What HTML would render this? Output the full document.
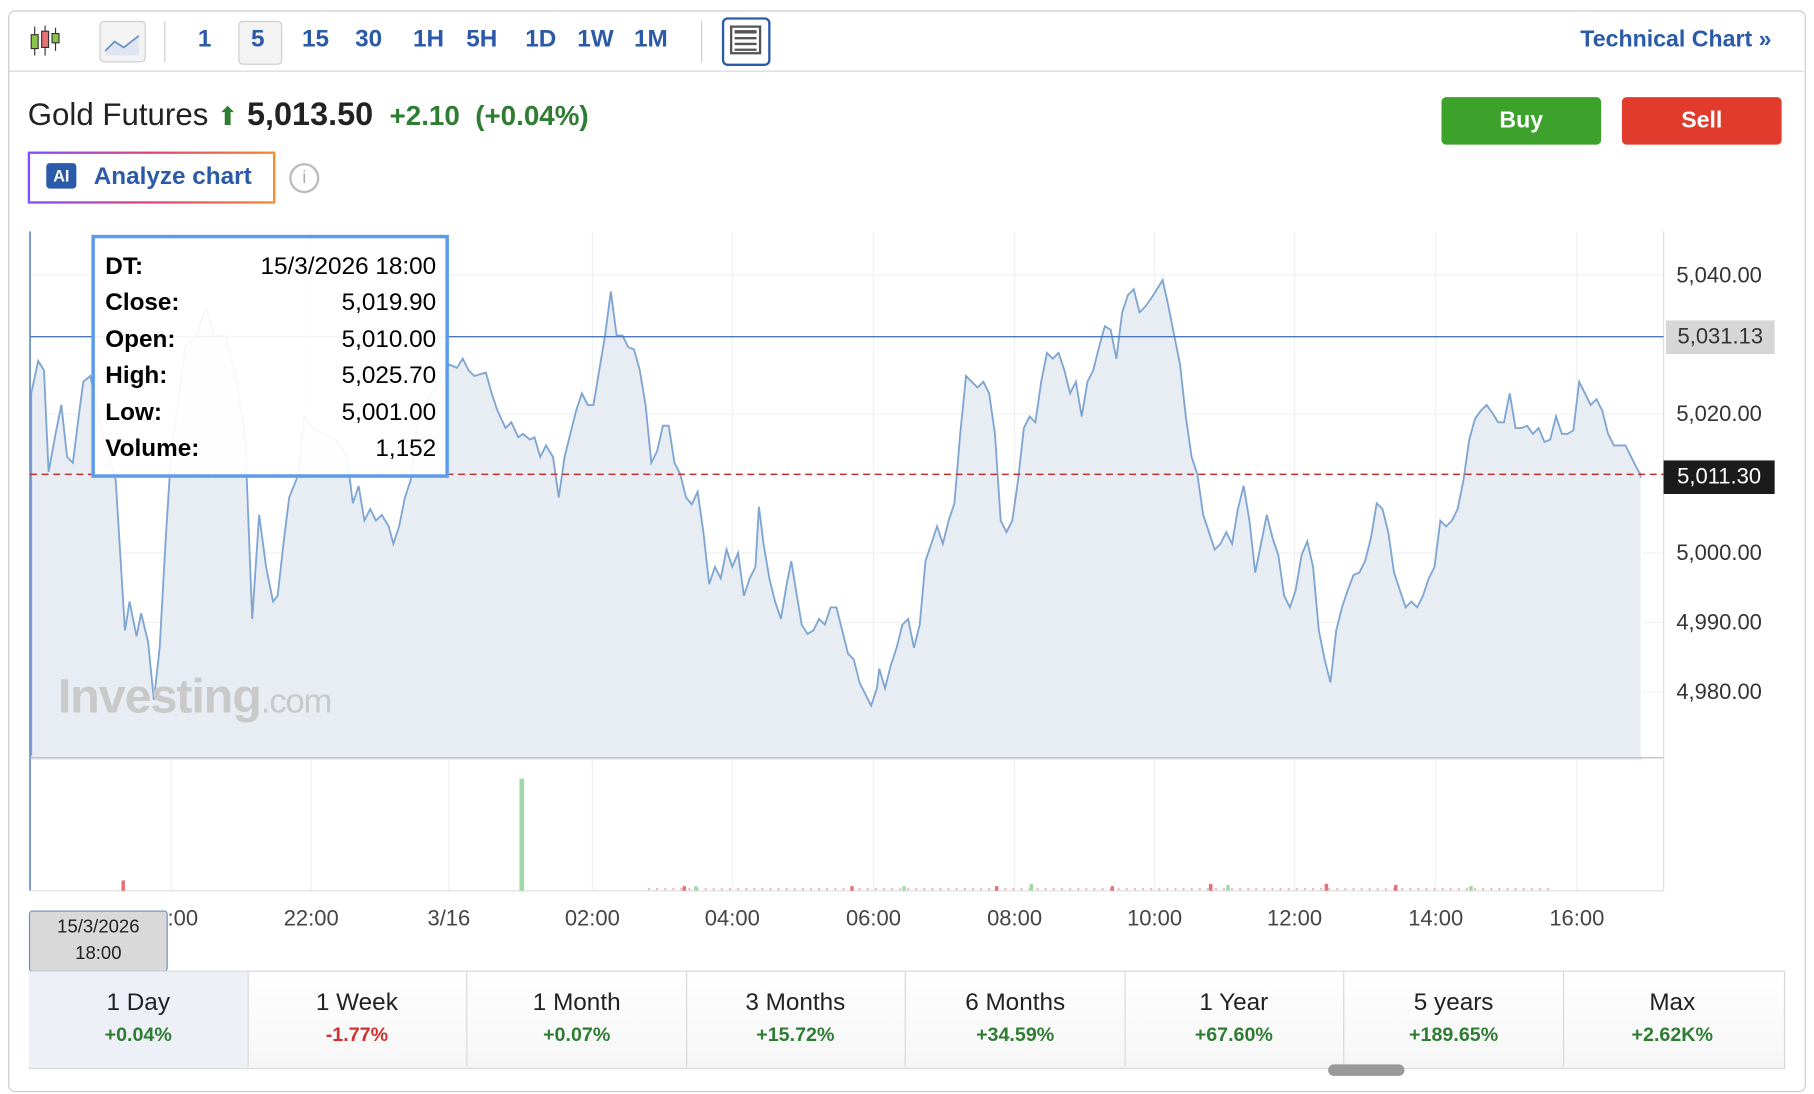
<!DOCTYPE html>
<html><head><meta charset="utf-8"><style>
html,body{margin:0;padding:0;background:#fff;width:1814px;height:1094px;overflow:hidden}
#w{position:absolute;left:0;top:0;width:1568px;height:946px;transform:scale(1.156888);transform-origin:0 0;font-family:"Liberation Sans",Arial,sans-serif}
.a{position:absolute}
.tf{position:absolute;top:22px;font-size:21px;font-weight:bold;color:#2a5aa8}
.tab{position:absolute;top:840px;height:82px;width:189px;border-right:1px solid #d8d8d8;text-align:center}
.tab .t{margin-top:15px;font-size:21px;color:#222}
.tab .p{margin-top:6px;font-size:17px;font-weight:bold;color:#2e7d32}
.yl{position:absolute;left:1449px;font-size:19px;color:#333}
.xl{position:absolute;top:784px;font-size:19px;color:#444;transform:translateX(-50%)}
.tt{position:absolute;left:9px;font-size:21px;font-weight:bold;color:#000}
.tv{position:absolute;right:8px;font-size:21px;color:#000}
</style></head><body><div id="w">
<div class="a" style="left:7px;top:9px;width:1552px;height:933px;border:1px solid #ccc;border-radius:6px"></div>
<div class="a" style="left:8px;top:61px;width:1551px;height:1px;background:#d6d6d6"></div>
<svg class="a" style="left:24px;top:20px" width="34" height="30"><line x1="6" y1="3" x2="6" y2="28" stroke="#333"/><rect x="3" y="10" width="6" height="12" fill="#8bc34a" stroke="#333"/><line x1="15" y1="2" x2="15" y2="28" stroke="#333"/><rect x="12" y="7" width="6" height="14" fill="#e57373" stroke="#333"/><line x1="24" y1="4" x2="24" y2="24" stroke="#333"/><rect x="21" y="9" width="6" height="8" fill="#8bc34a" stroke="#333"/></svg>
<div class="a" style="left:86px;top:18px;width:38px;height:34px;border:1px solid #ccc;border-radius:4px;background:#f3f3f3"></div>
<svg class="a" style="left:90px;top:24px" width="32" height="26"><path d="M1 20 L9 12 L17 17 L30 7 L30 24 L1 24Z" fill="#dfe6f2"/><path d="M1 20 L9 12 L17 17 L30 7" fill="none" stroke="#6b8fc4" stroke-width="1.5"/></svg>
<div class="a" style="left:142px;top:18px;width:1px;height:36px;background:#ccc"></div>
<div class="a" style="left:206px;top:18px;width:36px;height:36px;border:1px solid #ccc;border-radius:4px;background:#f3f3f3"></div>
<div class="tf" style="left:171px">1</div><div class="tf" style="left:217px">5</div><div class="tf" style="left:261px">15</div><div class="tf" style="left:307px">30</div><div class="tf" style="left:357px">1H</div><div class="tf" style="left:403px">5H</div><div class="tf" style="left:454px">1D</div><div class="tf" style="left:499px">1W</div><div class="tf" style="left:548px">1M</div>
<div class="a" style="left:606px;top:18px;width:1px;height:36px;background:#ccc"></div>
<div class="a" style="left:624px;top:15px;width:38px;height:38px;border:2px solid #2a5aa8;border-radius:5px"></div>
<svg class="a" style="left:631px;top:22px" width="28" height="26"><rect x="1" y="1" width="25" height="23" fill="none" stroke="#555" stroke-width="2"/><rect x="4" y="4" width="19" height="3" fill="#555"/><line x1="4" y1="11" x2="23" y2="11" stroke="#555" stroke-width="2"/><line x1="4" y1="16" x2="23" y2="16" stroke="#555" stroke-width="2"/><line x1="4" y1="21" x2="23" y2="21" stroke="#555" stroke-width="2"/></svg>
<div class="a" style="left:1366px;top:23px;font-size:20px;font-weight:bold;color:#2a5aa8">Technical Chart »</div>
<div class="a" style="left:24px;top:83px;font-size:27px;color:#222;white-space:nowrap">Gold Futures <span style="color:#2e7d32;font-size:22px">&#11014;</span> <b style="color:#222;font-size:28px">5,013.50</b> <b style="color:#2e7d32;font-size:24px">&nbsp;+2.10&nbsp; (+0.04%)</b></div>
<div class="a" style="left:1246px;top:84px;width:138px;height:41px;background:#3ca22c;border-radius:4px;color:#fff;font-size:20px;font-weight:bold;text-align:center;line-height:41px">Buy</div>
<div class="a" style="left:1402px;top:84px;width:138px;height:41px;background:#e03b2c;border-radius:4px;color:#fff;font-size:20px;font-weight:bold;text-align:center;line-height:41px">Sell</div>
<div class="a" style="left:24px;top:131px;width:210px;height:41px;border:2px solid;border-image:linear-gradient(90deg,#7c4dff,#e0457b,#f28a2e) 1;border-radius:6px"></div>
<div class="a" style="left:40px;top:141px;width:26px;height:22px;background:#2a5aa8;border-radius:3px;color:#fff;font-size:14px;font-weight:bold;text-align:center;line-height:22px">AI</div>
<div class="a" style="left:81px;top:141px;font-size:21px;font-weight:bold;color:#2a5aa8">Analyze chart</div>
<div class="a" style="left:250px;top:141px;width:22px;height:22px;border:2px solid #bbb;border-radius:50%;color:#aaa;font-size:15px;text-align:center;line-height:22px">i</div>
<svg class="a" style="left:0;top:0" width="1568" height="946">
<g stroke="#f0f0f0" stroke-width="1">
<line x1="148" y1="200" x2="148" y2="770"/><line x1="269" y1="200" x2="269" y2="770"/><line x1="388" y1="200" x2="388" y2="770"/><line x1="512" y1="200" x2="512" y2="770"/><line x1="633" y1="200" x2="633" y2="770"/><line x1="755" y1="200" x2="755" y2="770"/><line x1="877" y1="200" x2="877" y2="770"/><line x1="998" y1="200" x2="998" y2="770"/><line x1="1119" y1="200" x2="1119" y2="770"/><line x1="1241" y1="200" x2="1241" y2="770"/><line x1="1363" y1="200" x2="1363" y2="770"/>
<line x1="26" y1="238" x2="1438" y2="238"/><line x1="26" y1="358" x2="1438" y2="358"/><line x1="26" y1="478" x2="1438" y2="478"/><line x1="26" y1="538" x2="1438" y2="538"/><line x1="26" y1="598" x2="1438" y2="598"/>
</g>
<path d="M27 340 L33 312 L38 320 L42 408 L48 375 L53 350 L58 395 L63 400 L68 360 L72 330 L78 325 L90 380 L100 415 L108 545 L112 520 L118 550 L122 530 L128 555 L133 605 L138 560 L143 470 L148 390 L155 340 L160 300 L170 290 L178 265 L185 290 L195 290 L205 330 L212 380 L218 535 L224 445 L230 490 L236 520 L240 515 L245 470 L250 430 L258 410 L263 360 L270 370 L280 375 L290 380 L300 395 L305 435 L310 420 L315 450 L320 440 L325 450 L330 445 L336 455 L340 470 L345 455 L350 430 L355 415 L360 370 L370 345 L380 330 L388 315 L395 318 L400 310 L405 320 L410 325 L420 322 L425 340 L430 355 L437 370 L442 365 L448 378 L452 375 L458 380 L462 378 L467 395 L472 385 L478 395 L483 430 L488 395 L493 375 L498 355 L503 340 L508 350 L513 350 L518 320 L523 290 L528 252 L533 290 L538 290 L543 300 L548 302 L553 320 L558 350 L563 400 L568 390 L573 368 L578 368 L583 400 L588 410 L593 430 L598 436 L603 425 L608 460 L613 505 L618 490 L623 500 L628 475 L633 490 L638 478 L643 515 L648 500 L653 490 L656 438 L660 470 L665 500 L670 520 L675 535 L680 505 L684 485 L688 510 L693 540 L698 548 L703 545 L708 535 L713 540 L718 525 L723 525 L728 545 L733 565 L738 570 L743 590 L748 600 L753 610 L758 595 L760 578 L765 595 L770 575 L775 560 L780 540 L785 535 L790 560 L795 540 L800 485 L805 470 L810 455 L815 470 L820 450 L825 435 L830 375 L835 325 L840 330 L845 335 L850 330 L855 340 L860 375 L865 450 L870 460 L875 450 L880 415 L885 370 L890 360 L895 365 L900 330 L905 305 L910 310 L915 305 L920 320 L925 340 L930 330 L935 360 L940 330 L945 320 L950 300 L955 282 L960 285 L965 310 L970 270 L975 255 L980 250 L985 270 L990 265 L995 258 L1000 250 L1005 242 L1010 265 L1015 290 L1020 315 L1025 360 L1030 395 L1035 410 L1040 445 L1045 460 L1050 475 L1055 470 L1060 460 L1065 470 L1070 440 L1075 420 L1080 450 L1085 495 L1090 470 L1095 445 L1100 465 L1105 480 L1110 515 L1115 525 L1120 510 L1125 480 L1130 468 L1135 490 L1140 545 L1145 570 L1150 590 L1155 545 L1160 525 L1165 510 L1170 497 L1175 495 L1180 485 L1185 465 L1190 435 L1195 440 L1200 460 L1205 495 L1210 510 L1215 525 L1220 520 L1225 525 L1230 515 L1235 500 L1240 490 L1245 450 L1250 455 L1255 450 L1260 440 L1265 415 L1270 380 L1275 362 L1280 355 L1285 350 L1290 357 L1295 365 L1300 365 L1305 340 L1310 370 L1315 370 L1320 368 L1325 375 L1330 370 L1335 382 L1340 380 L1345 360 L1350 375 L1355 375 L1360 372 L1365 330 L1370 340 L1375 350 L1380 345 L1385 355 L1390 375 L1395 385 L1400 385 L1405 385 L1410 395 L1415 405 L1418 410 L1418 655 L27 655 Z" fill="#e8edf4" stroke="#7fa6d3" stroke-width="1.6"/>
<rect x="1416.5" y="413" width="1.5" height="243" fill="#e8edf4"/>
<rect x="1418" y="413" width="2" height="243" fill="#fff"/>
<rect x="27" y="653" width="1392" height="4" fill="#e8edf4"/>
<line x1="26" y1="200" x2="26" y2="770" stroke="#6b8fc4" stroke-width="1.5"/>
<line x1="26" y1="655" x2="1438" y2="655" stroke="#bbb"/>
<line x1="1438" y1="200" x2="1438" y2="770" stroke="#ddd"/>
<line x1="26" y1="770" x2="1438" y2="770" stroke="#ddd"/>
<line x1="26" y1="291" x2="1438" y2="291" stroke="#4a78b8" stroke-width="1.2"/>
<line x1="26" y1="410" x2="1438" y2="410" stroke="#c62828" stroke-width="1.2" stroke-dasharray="6,4"/>
<rect x="449" y="673" width="4" height="97" fill="#9fd9a8"/>
<path d="M560 768.5 H1340" stroke="#f0c0c0" stroke-width="2" stroke-dasharray="2,5"/>
<g fill="#e57373"><rect x="105" y="761" width="3" height="9"/><rect x="590" y="766" width="3" height="4"/><rect x="735" y="766" width="3" height="4"/><rect x="1045" y="764" width="3" height="6"/><rect x="1145" y="764" width="3" height="6"/><rect x="1205" y="765" width="3" height="5"/><rect x="860" y="766" width="3" height="4"/><rect x="960" y="766" width="3" height="4"/></g>
<g fill="#9fd9a8"><rect x="600" y="766" width="3" height="4"/><rect x="890" y="764" width="3" height="6"/><rect x="1060" y="765" width="3" height="5"/><rect x="1270" y="766" width="3" height="4"/><rect x="780" y="766" width="3" height="4"/></g>
</svg>
<div class="a" style="left:50px;top:578px;font-size:42px;font-weight:bold;color:#c9c9c9;letter-spacing:-1px">Investing<span style="font-weight:normal;font-size:30px">.com</span></div>
<div class="yl" style="top:228px">5,040.00</div><div class="yl" style="top:348px">5,020.00</div><div class="yl" style="top:468px">5,000.00</div><div class="yl" style="top:528px">4,990.00</div><div class="yl" style="top:588px">4,980.00</div>
<div class="a" style="left:1440px;top:277px;width:94px;height:29px;background:#d6d6d6;font-size:19px;color:#333;line-height:29px;text-align:center">5,031.13</div>
<div class="a" style="left:1438px;top:398px;width:96px;height:29px;background:#1b1b1b;font-size:19px;color:#fff;line-height:29px;text-align:center">5,011.30</div>
<div class="xl" style="left:158px">:00</div><div class="xl" style="left:269px">22:00</div><div class="xl" style="left:388px">3/16</div><div class="xl" style="left:512px">02:00</div><div class="xl" style="left:633px">04:00</div><div class="xl" style="left:755px">06:00</div><div class="xl" style="left:877px">08:00</div><div class="xl" style="left:998px">10:00</div><div class="xl" style="left:1119px">12:00</div><div class="xl" style="left:1241px">14:00</div><div class="xl" style="left:1363px">16:00</div>
<div class="a" style="left:25px;top:787px;width:118px;height:49px;background:#d9d9d9;border:1px solid #6b8fc4;border-radius:3px;font-size:16px;color:#222;text-align:center;line-height:23px;padding-top:2px">15/3/2026<br>18:00</div>
<div class="a" style="left:79px;top:203px;width:303px;height:204px;border:3px solid #5b9bea;background:rgba(255,255,255,0.93)">
<div class="tt" style="top:13px">DT:</div><div class="tv" style="top:13px">15/3/2026 18:00</div>
<div class="tt" style="top:44px">Close:</div><div class="tv" style="top:44px">5,019.90</div>
<div class="tt" style="top:76px">Open:</div><div class="tv" style="top:76px">5,010.00</div>
<div class="tt" style="top:107px">High:</div><div class="tv" style="top:107px">5,025.70</div>
<div class="tt" style="top:139px">Low:</div><div class="tv" style="top:139px">5,001.00</div>
<div class="tt" style="top:170px">Volume:</div><div class="tv" style="top:170px">1,152</div>
</div>
<div class="a" style="left:25px;top:839px;width:1516px;height:83px;border:1px solid #d8d8d8;background:linear-gradient(#fff,#f6f6f6)"></div>
<div class="tab" style="left:25px;background:#edf1f7"><div class="t">1 Day</div><div class="p">+0.04%</div></div>
<div class="tab" style="left:214px"><div class="t">1 Week</div><div class="p" style="color:#d32f2f">-1.77%</div></div>
<div class="tab" style="left:404px"><div class="t">1 Month</div><div class="p">+0.07%</div></div>
<div class="tab" style="left:593px"><div class="t">3 Months</div><div class="p">+15.72%</div></div>
<div class="tab" style="left:783px"><div class="t">6 Months</div><div class="p">+34.59%</div></div>
<div class="tab" style="left:972px"><div class="t">1 Year</div><div class="p">+67.60%</div></div>
<div class="tab" style="left:1162px"><div class="t">5 years</div><div class="p">+189.65%</div></div>
<div class="tab" style="left:1351px;border-right:none"><div class="t">Max</div><div class="p">+2.62K%</div></div>
<div class="a" style="left:1148px;top:920px;width:66px;height:10px;background:#999;border-radius:5px"></div>
</div></body></html>
